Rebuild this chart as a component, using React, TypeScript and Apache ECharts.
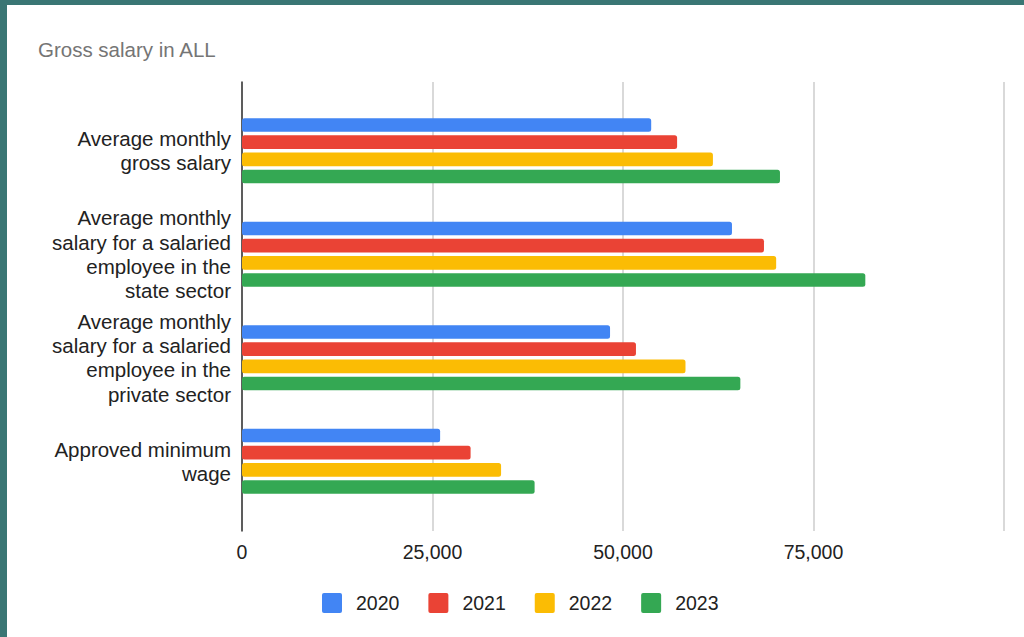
import React, { useEffect, useRef } from "react";
import * as echarts from "echarts";

const title = "Gross salary in ALL";
const categories = [
  "Average monthly\ngross salary",
  "Average monthly\nsalary for a salaried\nemployee in the\nstate sector",
  "Average monthly\nsalary for a salaried\nemployee in the\nprivate sector",
  "Approved minimum\nwage",
];
const years = ["2020", "2021", "2022", "2023"];
const v2020 = [53700, 64300, 48300, 26000];
const v2021 = [57100, 68500, 51700, 30000];
const v2022 = [61800, 70100, 58200, 34000];
const v2023 = [70600, 81800, 65400, 38400];
const seriesValues = [v2020, v2021, v2022, v2023];
const colors = ["#4285f4", "#ea4335", "#fbbc04", "#34a853"];
const axisMin = 0;
const axisMax = 100000;
const axisStep = 25000;

const FONT = "'Liberation Sans', Arial, sans-serif";
const SQUARE = "path://M2,0 H18 Q20,0 20,2 V18 Q20,20 18,20 H2 Q0,20 0,18 V2 Q0,0 2,0 Z";

export default function App() {
  const ref = useRef<HTMLDivElement>(null);
  useEffect(() => {
    if (!ref.current) return;
    const chart = echarts.init(ref.current, undefined, { renderer: "svg" });
    chart.setOption({
      animation: false,
      backgroundColor: "#ffffff",
      textStyle: { fontFamily: FONT },
      title: {
        text: title,
        left: 26,
        top: 29,
        textStyle: { fontFamily: FONT, fontSize: 20.5, fontWeight: "normal", color: "#757575" },
      },
      legend: {
        data: years,
        left: 310,
        top: 583,
        itemWidth: 20,
        itemHeight: 20,
        itemGap: 29,
        icon: SQUARE,
        textStyle: { fontFamily: FONT, fontSize: 19.5, color: "#222222", padding: [0, 0, 0, 9] },
      },
      grid: [
        { left: 235, right: 20, top: 77, bottom: 106, containLabel: false },
        { left: 235, right: 20, top: 94, height: 414, containLabel: false },
      ],
      xAxis: [
        {
          type: "value",
          gridIndex: 0,
          min: axisMin,
          max: axisMax,
          interval: axisStep,
          axisLine: { show: false },
          axisTick: { show: false },
          splitLine: { show: true, lineStyle: { color: "#cccccc", width: 1.5 } },
          axisLabel: {
            margin: 11,
            fontFamily: FONT,
            fontSize: 19.5,
            color: "#222222",
            formatter: (v: number) => (v === axisMax ? "" : v.toLocaleString("en-US")),
          },
        },
        {
          type: "value",
          gridIndex: 1,
          min: axisMin,
          max: axisMax,
          interval: axisStep,
          show: false,
          splitLine: { show: false },
        },
      ],
      yAxis: [
        {
          type: "value",
          gridIndex: 0,
          min: 0,
          max: 1,
          axisLine: { show: true, lineStyle: { color: "#333333", width: 1.5 } },
          axisTick: { show: false },
          axisLabel: { show: false },
          splitLine: { show: false },
        },
        {
          type: "category",
          gridIndex: 1,
          data: categories,
          inverse: true,
          axisLine: { show: false },
          axisTick: { show: false },
          splitLine: { show: false },
          axisLabel: {
            margin: 11,
            fontFamily: FONT,
            fontSize: 20.5,
            lineHeight: 24.3,
            color: "#222222",
            align: "right",
          },
        },
      ],
      series: years.map((y, i) => ({
        name: y,
        type: "bar",
        xAxisIndex: 1,
        yAxisIndex: 1,
        data: seriesValues[i],
        barGap: "26%",
        barCategoryGap: "37%",
        itemStyle: { color: colors[i], borderRadius: 2.5 },
      })),
    });
    return () => chart.dispose();
  }, []);

  return (
    <div
      style={{
        position: "fixed",
        left: 0,
        top: 0,
        width: 1024,
        height: 637,
        background: "#3a7674",
      }}
    >
      <div
        ref={ref}
        style={{ position: "absolute", left: 7, top: 5, width: 1017, height: 632 }}
      />
    </div>
  );
}
